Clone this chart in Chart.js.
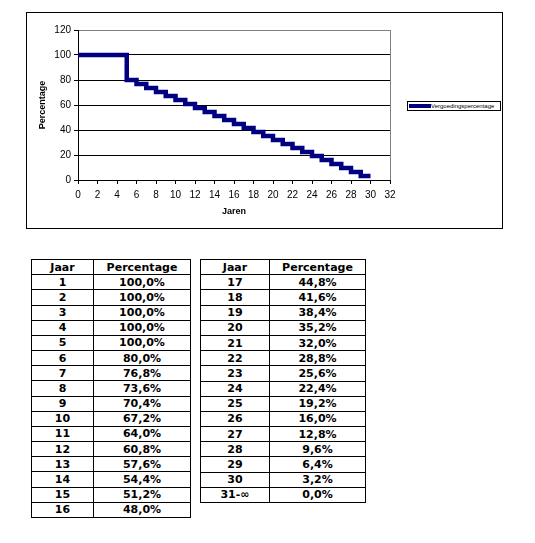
<!DOCTYPE html>
<html>
<head>
<meta charset="utf-8">
<script src="https://cdn.jsdelivr.net/npm/chart.js@4.4.0/dist/chart.umd.min.js"></script>
<style>
  body { margin:0; background:#fff; width:535px; height:543px; position:relative; overflow:hidden; }
  #chartBox { position:absolute; left:26px; top:12px; width:477px; height:217px; border:1px solid #000; box-sizing:border-box; }
  #legend { position:absolute; left:407px; top:101px; width:94px; height:10px; border:1px solid #000; box-sizing:border-box; background:#fff; }
  #legend .swatch { position:absolute; left:1px; top:2px; width:22px; height:4px; background:#000080; }
  #legend .txt { position:absolute; left:23px; top:0px; font:6px "Liberation Sans", Arial, sans-serif; line-height:8px; color:#000; white-space:nowrap; }
  table { position:absolute; border-collapse:collapse; font-family:"DejaVu Sans", Verdana, sans-serif; font-weight:bold; font-size:11px; color:#000; table-layout:fixed; }
  td, th { border:1px solid #000; text-align:center; padding:0; line-height:13px; }
  #tabel1 { left:31px; top:259px; width:160px; height:259px; }
  #tabel2 { left:200px; top:259px; width:166px; height:244px; }
</style>
</head>
<body>
<div id="chartBox"><canvas id="grafiek"></canvas></div>
<div id="legend"><span class="swatch"></span><span class="txt">Vergoedingspercentage</span></div>
<table id="tabel1"><colgroup><col style="width:62px"><col></colgroup><tbody></tbody></table>
<table id="tabel2"><colgroup><col style="width:69px"><col></colgroup><tbody></tbody></table>
<script>
// gegevens uit de tabel: vergoeding per jaar
const jaren = [1,2,3,4,5,6,7,8,9,10,11,12,13,14,15,16,17,18,19,20,21,22,23,24,25,26,27,28,29,30]
const percentages = [100,100,100,100,100,80,76.8,73.6,70.4,67.2,64,60.8,57.6,54.4,51.2,48,44.8,41.6,38.4,35.2,32,28.8,25.6,22.4,19.2,16,12.8,9.6,6.4,3.2]
const restJaar = '31-\u221e'
const restPercentage = 0
const xTicks = [0,2,4,6,8,10,12,14,16,18,20,22,24,26,28,30,32]
const yTicks = [0,20,40,60,80,100,120]
const legendaLabel = 'Vergoedingspercentage'

function formatPct(v){
    return v.toFixed(1).replace('.', ',') + '%'
}

//tabellen vullen
function vulTabel(id, rijen){
    const tbody = document.querySelector('#' + id + ' tbody')
    const kop = document.createElement('tr')
    kop.innerHTML = '<td>Jaar</td><td>Percentage</td>'
    tbody.appendChild(kop)
    rijen.forEach(r=>{
        const tr = document.createElement('tr')
        tr.innerHTML = '<td>' + r[0] + '</td><td>' + formatPct(r[1]) + '</td>'
        tbody.appendChild(tr)
    })
}
const alleRijen = jaren.map((j,i)=>[j, percentages[i]])
vulTabel('tabel1', alleRijen.slice(0,16))
vulTabel('tabel2', alleRijen.slice(16).concat([[restJaar, restPercentage]]))

//trappen: jaar n geldt van n-1 tot n
const punten = jaren.map((j,i)=>({x:j-1, y:percentages[i]}))
punten.push({x:jaren[jaren.length-1], y:percentages[percentages.length-1]})

const tickFont = {family:'"Liberation Sans", Arial, sans-serif', size:10}
const titleFont = {family:'"Liberation Sans", Arial, sans-serif', size:9, weight:'bold'}

new Chart(document.getElementById('grafiek'), {
    type:'line',
    data:{
        datasets:[{
            label:legendaLabel,
            data:punten,
            stepped:'before',
            borderColor:'#000080',
            borderWidth:4.5,
            pointRadius:0,
            fill:false,
            borderJoinStyle:'miter'
        }]
    },
    options:{
        responsive:true,
        maintainAspectRatio:false,
        animation:false,
        layout:{padding:{left:0, top:17, right:112, bottom:0}},
        plugins:{legend:{display:false}, tooltip:{enabled:false}},
        scales:{
            x:{
                type:'linear',
                min:xTicks[0], max:xTicks[xTicks.length-1],
                afterFit:(s)=>{ s.height = 48 },
                afterBuildTicks:(s)=>{ s.ticks = xTicks.map(v=>({value:v})) },
                ticks:{font:tickFont, color:'#000', padding:5, maxRotation:0, autoSkip:false},
                grid:{
                    color:(c)=> c.tick && c.tick.value === xTicks[xTicks.length-1] ? '#808080' : 'rgba(0,0,0,0)',
                    tickColor:'#000', tickLength:4, lineWidth:1
                },
                border:{display:true, color:'#000', width:1},
                title:{display:true, text:'Jaren', font:titleFont, color:'#000', padding:{top:0, bottom:10.6}}
            },
            y:{
                min:yTicks[0], max:yTicks[yTicks.length-1],
                afterFit:(s)=>{ s.width = 51 },
                afterBuildTicks:(s)=>{ s.ticks = yTicks.map(v=>({value:v})) },
                ticks:{font:tickFont, color:'#000', padding:3},
                grid:{
                    color:(c)=> c.tick && c.tick.value === yTicks[yTicks.length-1] ? '#808080' : '#000',
                    tickColor:'#000', tickLength:4, lineWidth:1
                },
                border:{display:true, color:'#000', width:1},
                title:{display:true, text:'Percentage', font:titleFont, color:'#000', padding:{top:10.6, bottom:0}}
            }
        }
    }
})
</script>
</body>
</html>
